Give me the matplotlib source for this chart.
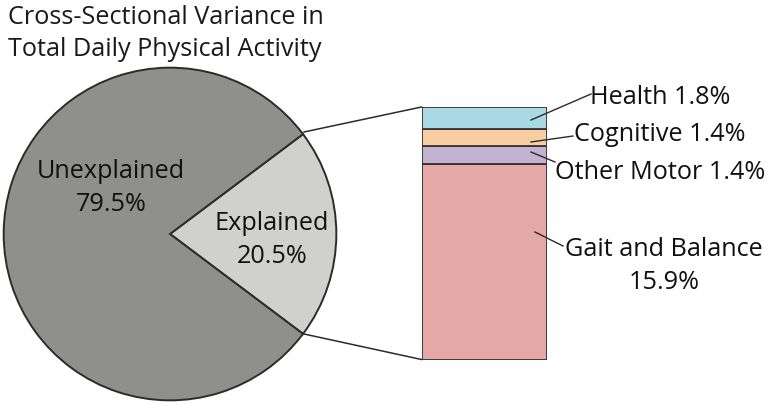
import matplotlib
matplotlib.use("Agg")
import matplotlib.pyplot as plt

# ---- data ----
pie_labels = ["Explained", "Unexplained"]
pie_values = [20.5, 79.5]
bar_labels = ["Gait and Balance", "Other Motor", "Cognitive", "Health"]
bar_values = [15.9, 1.4, 1.4, 1.8]

title_lines = ["Cross-Sectional Variance in", "Total Daily Physical Activity"]

plt.rcParams['font.family'] = ['Open Sans', 'DejaVu Sans']

W, H = 772, 406
fig = plt.figure(figsize=(W / 100, H / 100), dpi=100)
fig.patch.set_facecolor('white')

def frac(x0, y0, x1, y1):
    return [x0 / W, 1 - y1 / H, (x1 - x0) / W, (y1 - y0) / H]

# ---- pie ----
cx, cy, r = 170, 235, 168
axp = fig.add_axes(frac(cx - r, cy - r, cx + r, cy + r))
pie_colors = ["#d0d0cf", "#8f8f8b"]
explained_frac = pie_values[0] / sum(pie_values)
axp.pie(pie_values, colors=pie_colors, startangle=-explained_frac * 180,
        counterclock=True,
        wedgeprops=dict(edgecolor="#2b2b2b", linewidth=1.4))
axp.set_xlim(-1.01, 1.01)
axp.set_ylim(-1.01, 1.01)
axp.set_aspect('equal')
axp.axis('off')

# ---- stacked bar ----
bx0, bx1, by0, by1 = 421.5, 546.5, 108, 360.5
axb = fig.add_axes(frac(bx0, by0, bx1, by1))
bar_colors = ["#e4a9a7", "#c3b3d3", "#f8cda2", "#a8d9e4"]
bottom = 0
for v, c in zip(bar_values, bar_colors):
    axb.bar(0, v, bottom=bottom, width=1.0, color=c, edgecolor="#3a3030",
            linewidth=1.3)
    bottom += v
axb.set_xlim(-0.5, 0.5)
axb.set_ylim(0, sum(bar_values))
axb.axis('off')

# ---- overlay (pixel coords) ----
axo = fig.add_axes([0, 0, 1, 1], zorder=5)
axo.set_xlim(0, W)
axo.set_ylim(H, 0)
axo.axis('off')
axo.patch.set_alpha(0)

fs = 18.2
ls = 1.42
axo.text(8, 18, title_lines[0], fontsize=fs, ha='left', va='center', color='#1a1a1a')
axo.text(8, 49, title_lines[1], fontsize=fs, ha='left', va='center', color='#1a1a1a')

axo.text(111, 188, f"{pie_labels[1]}\n{pie_values[1]}%", fontsize=fs, ha='center',
         va='center', linespacing=ls, color='#111111')
axo.text(272, 240, f"{pie_labels[0]}\n{pie_values[0]}%", fontsize=fs, ha='center',
         va='center', linespacing=ls, color='#111111')

# connector lines from pie wedge edges to bar corners
lc = "#2b2b2b"
axo.plot([304, bx0], [133, by0], color=lc, lw=1.1)
axo.plot([304, bx0], [335, by1], color=lc, lw=1.1)

# bar labels with leader lines
def lab(x0, y0, x1, y1, tx, ty, s, ha='left'):
    axo.plot([x0, x1], [y0, y1], color=lc, lw=1.0)
    axo.text(tx, ty, s, fontsize=fs, ha=ha, va='center', color='#111111',
             linespacing=ls)

lab(531, 121, 591, 95, 590, 98, f"{bar_labels[3]} {bar_values[3]}%")
lab(531, 143, 573, 137, 574, 135, f"{bar_labels[2]} {bar_values[2]}%")
lab(531, 153, 555, 163, 555, 173, f"{bar_labels[1]} {bar_values[1]}%")
lab(535, 233, 563, 247, 664, 266, f"{bar_labels[0]}\n{bar_values[0]}%", ha='center')

fig.savefig("out.png", dpi=100, facecolor='white')
